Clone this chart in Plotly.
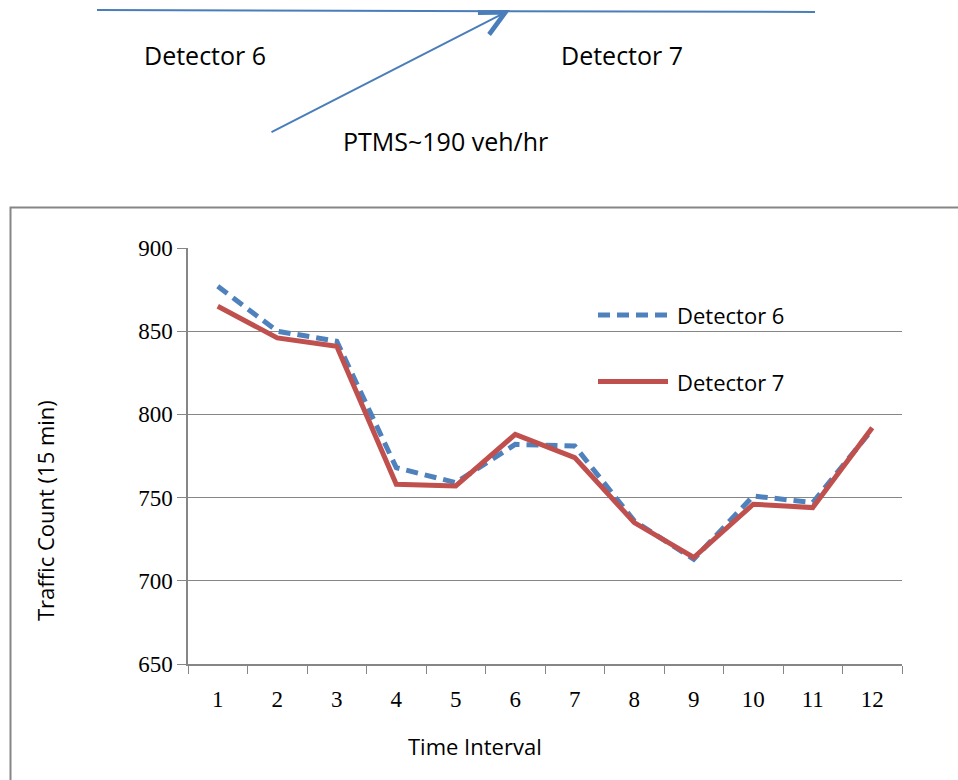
import plotly.graph_objects as go

W, H = 958, 780

intervals = ["1", "2", "3", "4", "5", "6", "7", "8", "9", "10", "11", "12"]
detector6 = [877, 850, 844, 768, 759, 782, 781, 736, 713, 751, 747, 791]
detector7 = [865, 846, 841, 758, 757, 788, 774, 735, 714, 746, 744, 792]

y_ticks = [650, 700, 750, 800, 850, 900]

BLUE = "#4F81BD"
RED = "#C0504D"
GRID = "#868686"
DASH = "12px,7px"
SANS = "Open Sans, Lato, sans-serif"
SERIF = "Liberation Serif, Times New Roman, serif"


def px_x(x):
    return x / W


def px_y(y):
    return 1 - y / H


fig = go.Figure()
fig.add_trace(go.Scatter(x=intervals, y=detector6, mode="lines", name="Detector 6",
                         line=dict(color=BLUE, width=5, dash=DASH)))
fig.add_trace(go.Scatter(x=intervals, y=detector7, mode="lines", name="Detector 7",
                         line=dict(color=RED, width=5)))

fig.update_xaxes(type="category", range=[-0.5, 11.5], domain=[px_x(188), px_x(902)],
                 automargin=False,
                 showline=True, linecolor=GRID, linewidth=1.5,
                 ticks="outside", tickson="boundaries", ticklen=8, tickcolor=GRID,
                 tickfont=dict(family=SERIF, size=23, color="black"),
                 ticklabelstandoff=14, showgrid=False)
fig.update_yaxes(range=[650, 900], tickvals=y_ticks, domain=[px_y(664), px_y(248)],
                 automargin=False,
                 showline=True, linecolor=GRID, linewidth=1.5,
                 ticks="outside", ticklen=9, tickcolor=GRID,
                 showgrid=True, gridcolor=GRID, gridwidth=1.4, zeroline=False,
                 tickfont=dict(family=SERIF, size=23, color="black"))

# outer chart frame
shapes = [dict(type="rect", xref="paper", yref="paper",
               x0=px_x(10.5), x1=px_x(990), y0=px_y(810), y1=px_y(207.5),
               line=dict(color=GRID, width=2), layer="below")]
# road sketch above the chart
shapes.append(dict(type="line", xref="paper", yref="paper",
                   x0=px_x(97), y0=px_y(10), x1=px_x(815), y1=px_y(12),
                   line=dict(color="#4A7EBB", width=2)))
# custom legend samples
shapes.append(dict(type="line", xref="paper", yref="paper",
                   x0=px_x(598), y0=px_y(315), x1=px_x(668), y1=px_y(315),
                   line=dict(color=BLUE, width=5, dash=DASH)))
shapes.append(dict(type="line", xref="paper", yref="paper",
                   x0=px_x(598), y0=px_y(381.5), x1=px_x(668), y1=px_y(381.5),
                   line=dict(color=RED, width=5)))

annotations = [
    dict(text="Detector 6", x=px_x(675), y=px_y(315), xanchor="left", yanchor="middle",
         font=dict(family=SANS, size=22, color="black")),
    dict(text="Detector 7", x=px_x(675), y=px_y(381.5), xanchor="left", yanchor="middle",
         font=dict(family=SANS, size=22, color="black")),
    dict(text="Traffic Count (15 min)", x=px_x(45), y=px_y(511), textangle=-90,
         xanchor="center", yanchor="middle", font=dict(family=SANS, size=22, color="black")),
    dict(text="Time Interval", x=px_x(475), y=px_y(746), xanchor="center", yanchor="middle",
         font=dict(family=SANS, size=22, color="black")),
    dict(text="Detector 6", x=px_x(205), y=px_y(55), xanchor="center", yanchor="middle",
         font=dict(family=SANS, size=25, color="black")),
    dict(text="Detector 7", x=px_x(622), y=px_y(55), xanchor="center", yanchor="middle",
         font=dict(family=SANS, size=25, color="black")),
    dict(text="PTMS~190 veh/hr", x=px_x(445), y=px_y(141), xanchor="center", yanchor="middle",
         font=dict(family=SANS, size=25, color="black")),
    # ramp arrow
    dict(text="", x=px_x(510), y=px_y(10), ax=270 - 510, ay=133 - 10,
         axref="pixel", ayref="pixel",
         showarrow=True, arrowhead=5, arrowsize=2.4, arrowwidth=2, arrowcolor="#4A7EBB"),
]
for a in annotations:
    a.setdefault("xref", "paper")
    a.setdefault("yref", "paper")
    a.setdefault("showarrow", False)

fig.update_layout(width=W, height=H,
                  margin=dict(l=0, r=0, t=0, b=0, pad=0, autoexpand=False),
                  paper_bgcolor="white", plot_bgcolor="white",
                  showlegend=False, shapes=shapes, annotations=annotations)

# pin the figure to the page corner so nothing shifts it
pin = ("document.body.style.margin='0';"
       "var gd=document.getElementById('{plot_id}');"
       "gd.style.position='fixed';gd.style.top='0';gd.style.left='0';")
fig.write_html("out.html", config={"responsive": False, "displayModeBar": False},
               post_script=pin)
